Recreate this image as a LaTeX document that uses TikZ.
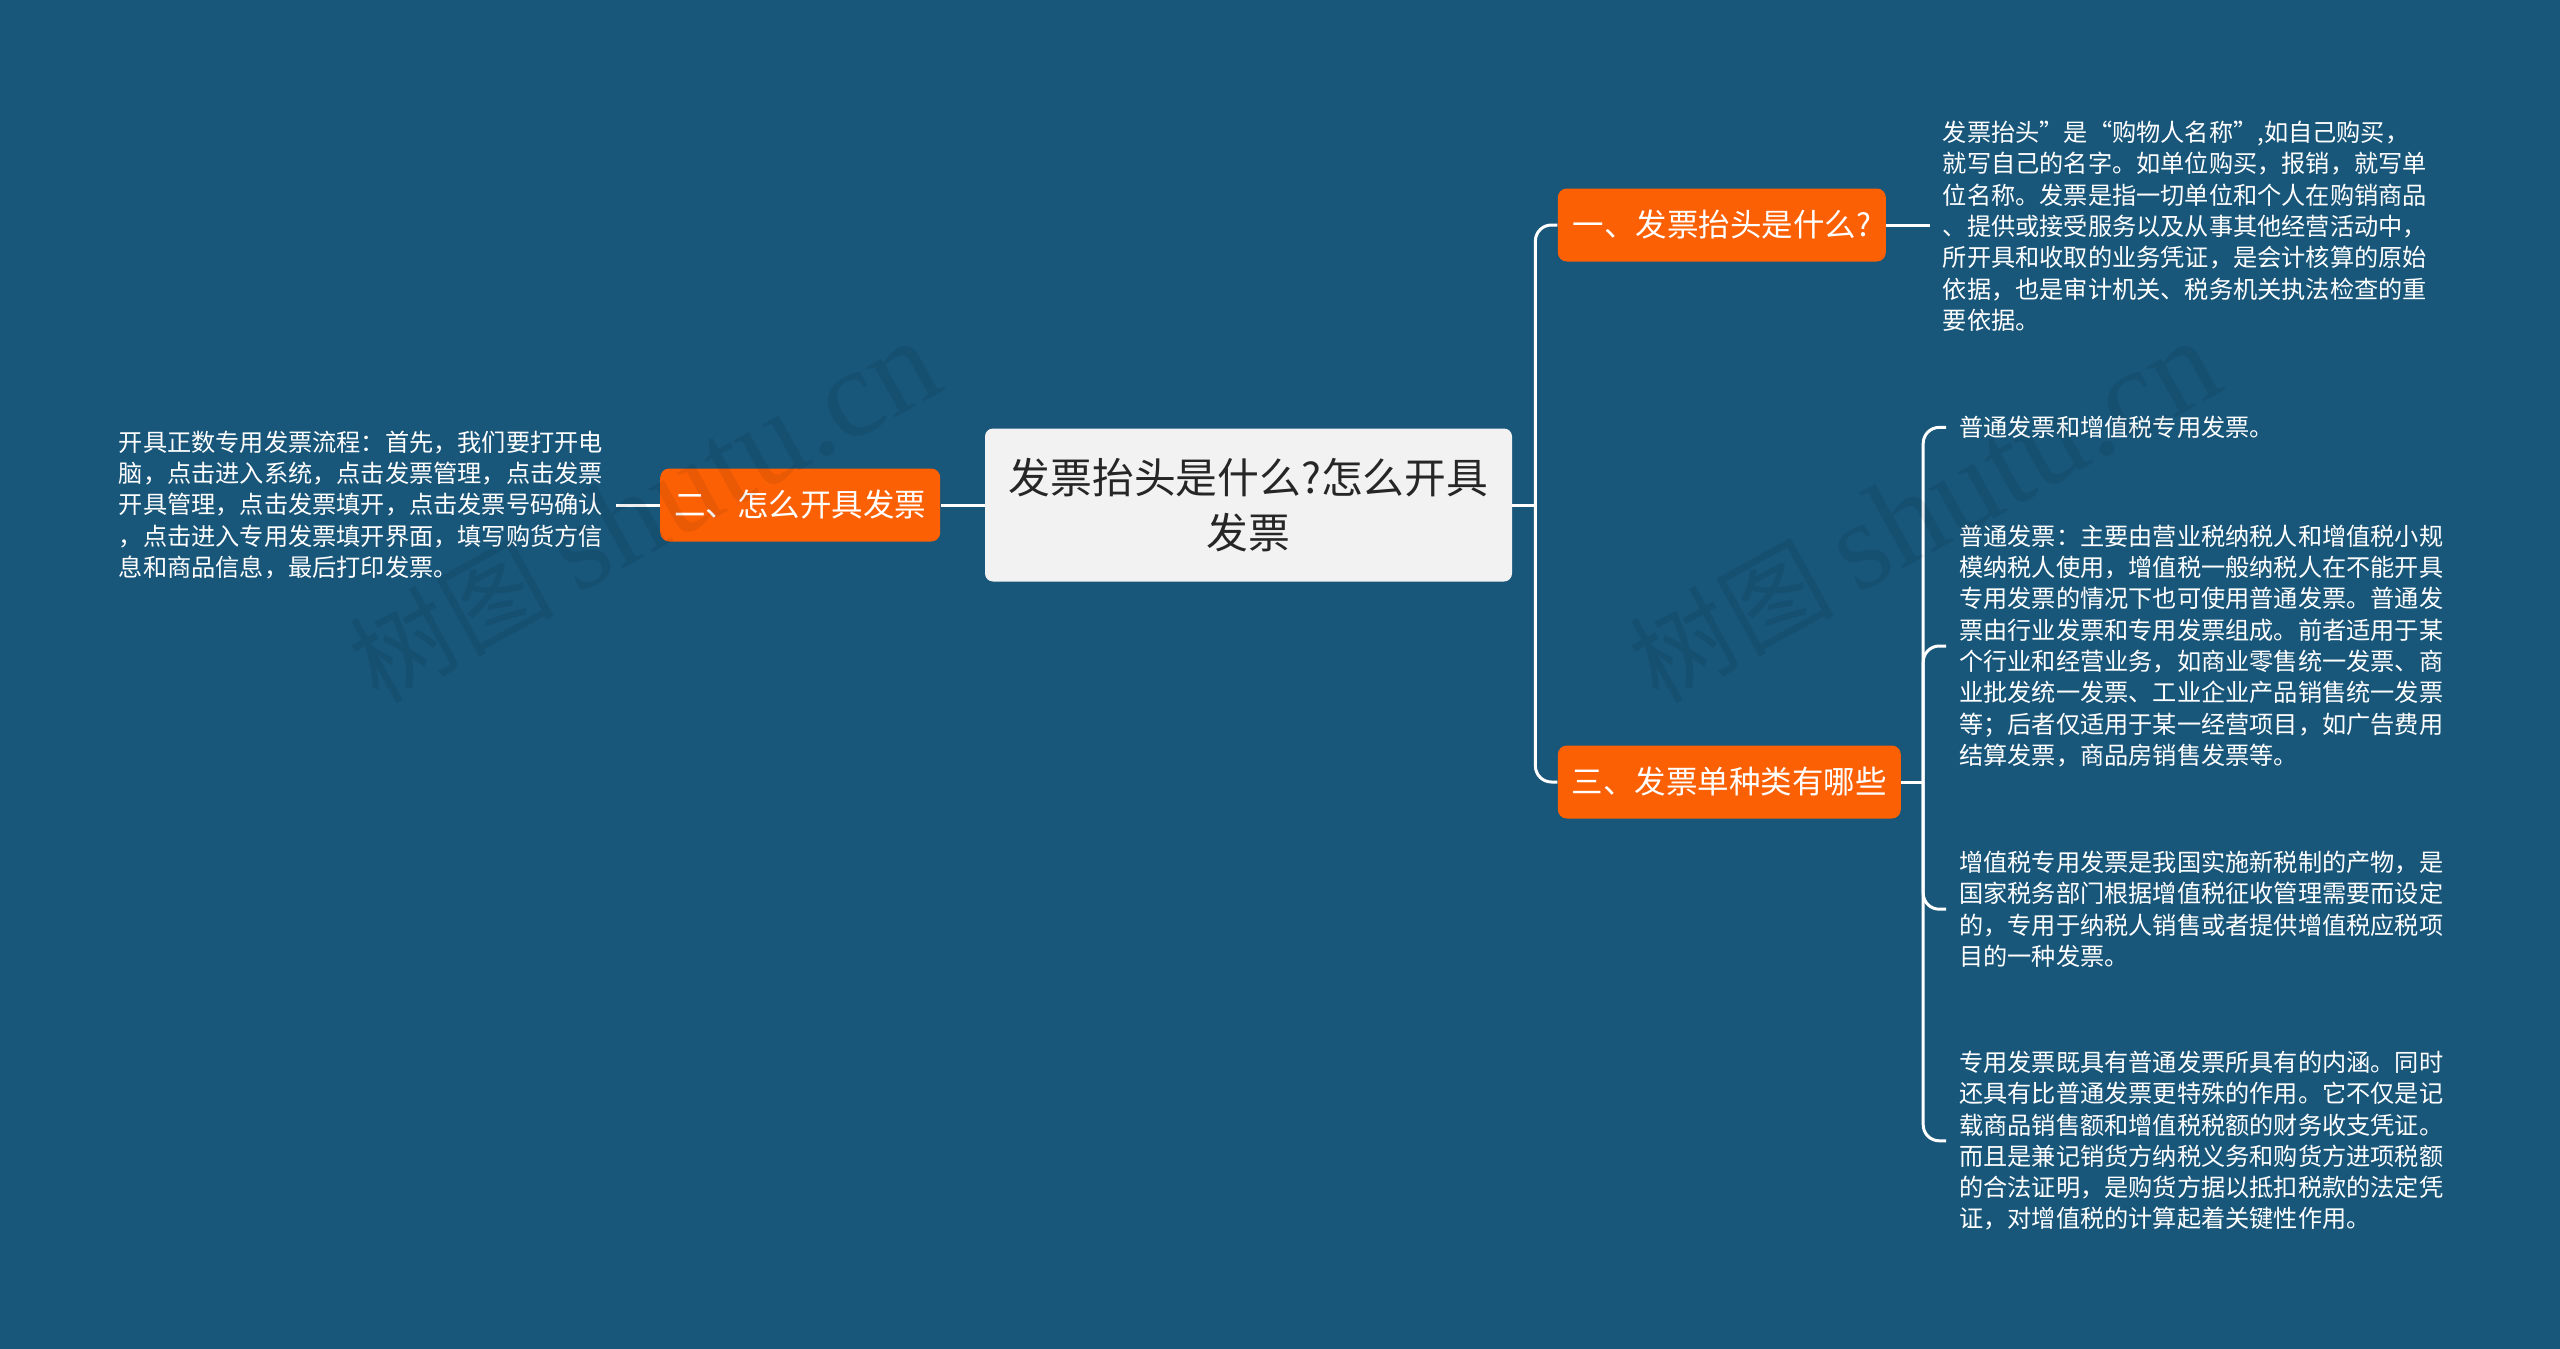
\documentclass[tikz,border=0pt]{standalone}
\usepackage{fontspec}
\usepackage{xcolor}
\usetikzlibrary{
    positioning,
    calc
}
\setmainfont{Noto Sans CJK SC}
\newfontfamily\markserif{Liberation Serif}
\definecolor{pagebg}{RGB}{24,86,122}
\definecolor{topicfill}{RGB}{251,96,5}
\definecolor{rootfill}{RGB}{242,242,242}
\tikzset{
  basic/.style = {
      rectangle,
      align=center,
      inner sep=0pt
  },
  rootbox/.style = {
      basic,
      rounded corners=4pt,
      fill=rootfill,
      text=black!85,
      minimum width=263.5pt,
      minimum height=76.5pt,
      font=\fontsize{20.9}{27.5}\selectfont
  },
  topic/.style = {
      basic,
      rounded corners=4.5pt,
      fill=topicfill,
      text=white,
      minimum height=36.5pt,
      font=\fontsize{15.75}{20}\selectfont
  },
  leaf/.style = {
      basic,
      align=left,
      text=white,
      outer xsep=6.5pt,
      font=\fontsize{12.1}{15.65}\selectfont
  },
  edge/.style = {
      draw=white,
      line width=1.5pt
  },
  branch/.style = {
      edge,
      rounded corners=8pt
  },
  watermark/.style = {
      rotate=29,
      text=black,
      opacity=0.065,
      font=\fontsize{51}{51}\selectfont
  }
}

\begin{document}
\begin{tikzpicture}[x=1pt,y=1pt]
    \useasboundingbox[fill=pagebg] (0,0) rectangle (1280,-674.5);
    \node[rootbox] (root) at (624.25,-252.5) {发票抬头是什么?怎么开具\\发票};
    \node[topic, minimum width=164pt, right=22.5pt of root, yshift=140pt] (first) {一、发票抬头是什么?};
    \node[topic, minimum width=140pt, left=22pt of root] (second) {二、怎么开具发票};
    \node[topic, minimum width=171.5pt, right=22.5pt of root, yshift=-138.5pt] (third) {三、发票单种类有哪些};
    \coordinate (forkroot) at ($(root.east)+(11.5,0)$);
    \coordinate (forkthird) at ($(third.east)+(11,0)$);
    % Leaves
    \node[leaf, right=21.8pt of first, yshift=-0.6pt] (headinfo) {发票抬头”是“购物人名称”,如自己购买，\\就写自己的名字。如单位购买，报销，就写单\\位名称。发票是指一切单位和个人在购销商品\\、提供或接受服务以及从事其他经营活动中，\\所开具和收取的业务凭证，是会计核算的原始\\依据，也是审计机关、税务机关执法检查的重\\要依据。};
    \node[leaf, left=22pt of second] (process) {开具正数专用发票流程：首先，我们要打开电\\脑，点击进入系统，点击发票管理，点击发票\\开具管理，点击发票填开，点击发票号码确认\\，点击进入专用发票填开界面，填写购货方信\\息和商品信息，最后打印发票。};
    \node[leaf, right=22.5pt of third, yshift=177.3pt] (kinds) {普通发票和增值税专用发票。};
    \node[leaf, right=22.5pt of third, yshift=68pt] (plain) {普通发票：主要由营业税纳税人和增值税小规\\模纳税人使用，增值税一般纳税人在不能开具\\专用发票的情况下也可使用普通发票。普通发\\票由行业发票和专用发票组成。前者适用于某\\个行业和经营业务，如商业零售统一发票、商\\业批发统一发票、工业企业产品销售统一发票\\等；后者仅适用于某一经营项目，如广告费用\\结算发票，商品房销售发票等。};
    \node[leaf, right=22.5pt of third, yshift=-63.6pt] (vat) {增值税专用发票是我国实施新税制的产物，是\\国家税务部门根据增值税征收管理需要而设定\\的，专用于纳税人销售或者提供增值税应税项\\目的一种发票。};
    \node[leaf, right=22.5pt of third, yshift=-179.4pt] (special) {专用发票既具有普通发票所具有的内涵。同时\\还具有比普通发票更特殊的作用。它不仅是记\\载商品销售额和增值税税额的财务收支凭证。\\而且是兼记销货方纳税义务和购货方进项税额\\的合法证明，是购货方据以抵扣税款的法定凭\\证，对增值税的计算起着关键性作用。};
    % Edges
    \draw[edge] (root.east) -- (forkroot);
    \draw[branch] (forkroot) |- (first.west);
    \draw[branch] (forkroot) |- (third.west);
    \draw[edge] (root.west) -- (second.east);
    \draw[edge] (second.west) -- (process.east);
    \draw[edge] (first.east) -- (headinfo.west |- first.east);
    \draw[edge] (third.east) -- (forkthird);
    \draw[branch] (forkthird) |- (kinds.west);
    \draw[branch] (forkthird) |- (plain.west);
    \draw[branch] (forkthird) |- (vat.west);
    \draw[branch] (forkthird) |- (special.west);
    % Watermarks
    \node[watermark] (markleft) at (322,-256) {树图 {\markserif\fontsize{63}{63}\selectfont shutu.cn}};
    \node[watermark] (markright) at (962,-256) {树图 {\markserif\fontsize{63}{63}\selectfont shutu.cn}};
\end{tikzpicture}
\end{document}
